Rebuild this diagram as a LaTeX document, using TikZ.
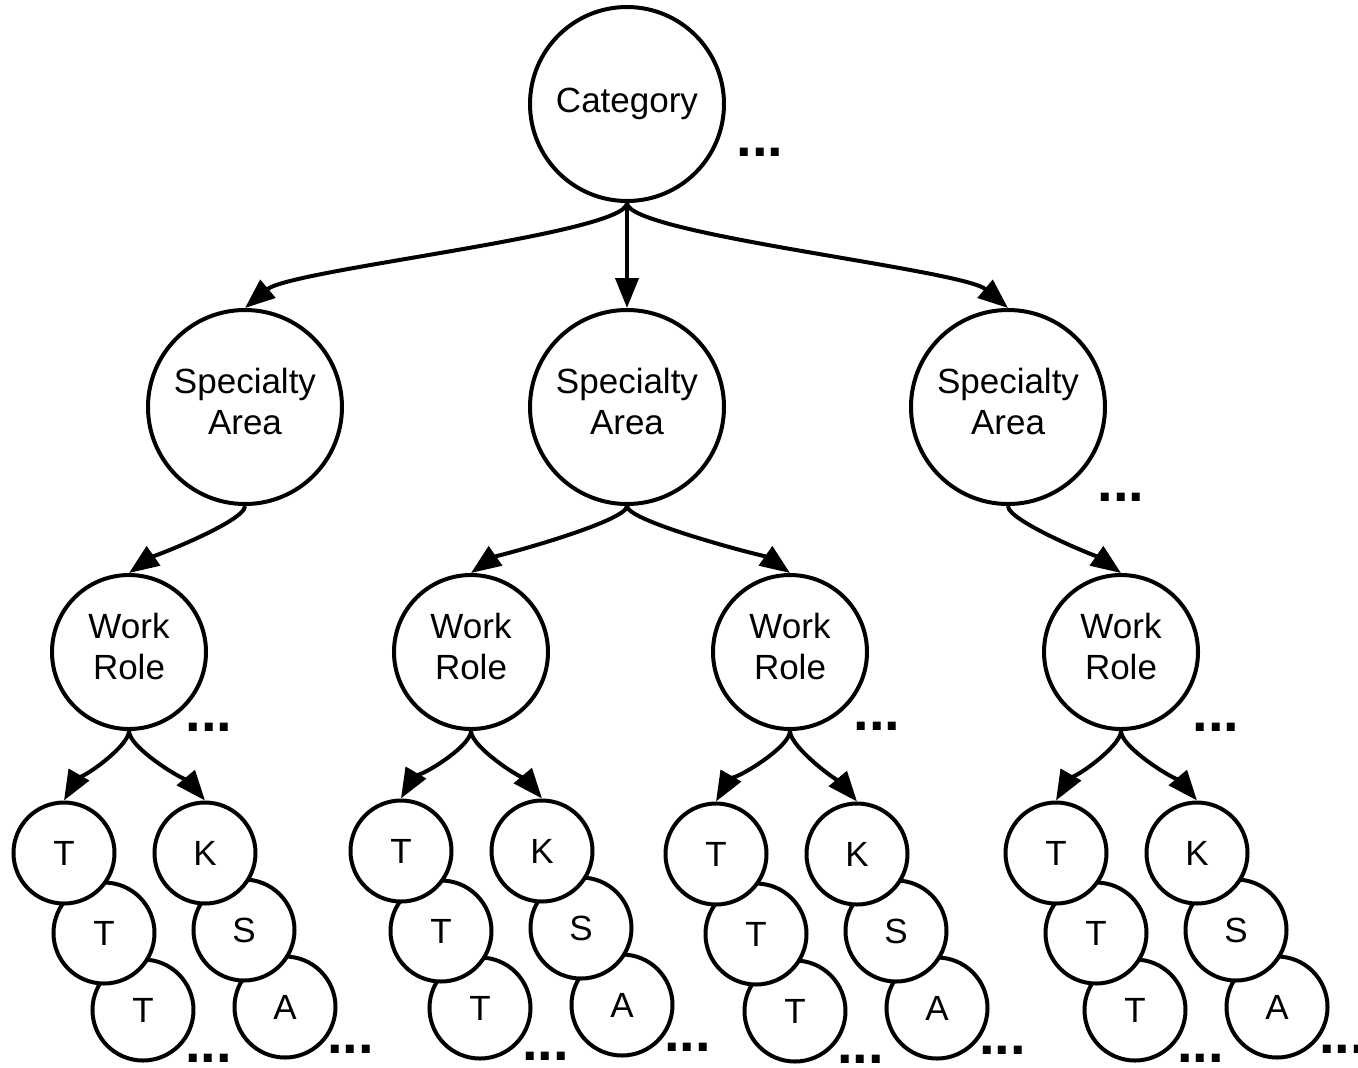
\documentclass[tikz,border=0pt]{standalone}
\usepackage{fontspec}
\setmainfont{Liberation Sans}
\usetikzlibrary{positioning}
\usetikzlibrary{arrows.meta}
\tikzset{on grid,
    every node/.style={
        font=\fontsize{17.5}{20.5}\selectfont},
    topic/.style={
        circle, draw,
        line width=2pt,
        fill=white,
        inner sep=0pt,
        align=center,
        minimum size=97pt},
    area/.style={topic, text depth=6pt},
    role/.style={topic, text depth=6pt, minimum size=77pt},
    leaf/.style={topic, minimum size=50.5pt},
    moredots/.style={
        inner sep=0pt,
        font=\bfseries\fontsize{28}{30}\selectfont},
    every edge/.style={
        draw,
        ->,>={Triangle[length=15pt,width=11.5pt]},
        line width=2pt}}
\begin{document}
\begin{tikzpicture}
        \useasboundingbox (-313.5pt,-481.5pt) rectangle (365.5pt,52pt);
        \node[topic] (cat) {Category};
        \node[area, below=151.5pt of cat] (sa2) {Specialty\\Area};
        \node[area, left=191pt of sa2] (sa1) {Specialty\\Area};
        \node[area, right=190.5pt of sa2] (sa3) {Specialty\\Area};
        \node[role, below left=122.5pt and 58pt of sa1] (wr1) {Work\\Role};
        \node[role, below left=122.5pt and 78pt of sa2] (wr2) {Work\\Role};
        \node[role, below right=122.5pt and 81.5pt of sa2] (wr3) {Work\\Role};
        \node[role, below right=122.5pt and 56.5pt of sa3] (wr4) {Work\\Role};
        % first group
        \node[leaf, below right=179pt and 7pt of wr1] (t13) {T};
        \node[leaf, above left=38.5pt and 19.5pt of t13] (t12) {T};
        \node[leaf, above left=40pt and 20pt of t12] (t11) {T};
        \node[leaf, above right=1.5pt and 71pt of t13] (a1) {A};
        \node[leaf, above left=38.5pt and 20.5pt of a1] (s1) {S};
        \node[leaf, above left=38.5pt and 19.5pt of s1] (k1) {K};
        % second group
        \node[leaf, below right=178pt and 4.5pt of wr2] (t23) {T};
        \node[leaf, above left=38.5pt and 19.5pt of t23] (t22) {T};
        \node[leaf, above left=40pt and 20pt of t22] (t21) {T};
        \node[leaf, above right=1.5pt and 71pt of t23] (a2) {A};
        \node[leaf, above left=38.5pt and 20.5pt of a2] (s2) {S};
        \node[leaf, above left=38.5pt and 19.5pt of s2] (k2) {K};
        % third group
        \node[leaf, below right=179.5pt and 2.5pt of wr3] (t33) {T};
        \node[leaf, above left=38.5pt and 19.5pt of t33] (t32) {T};
        \node[leaf, above left=40pt and 20pt of t32] (t31) {T};
        \node[leaf, above right=1.5pt and 71pt of t33] (a3) {A};
        \node[leaf, above left=38.5pt and 20.5pt of a3] (s3) {S};
        \node[leaf, above left=38.5pt and 19.5pt of s3] (k3) {K};
        % fourth group
        \node[leaf, below right=179pt and 7pt of wr4] (t43) {T};
        \node[leaf, above left=38.5pt and 19.5pt of t43] (t42) {T};
        \node[leaf, above left=40pt and 20pt of t42] (t41) {T};
        \node[leaf, above right=1.5pt and 71pt of t43] (a4) {A};
        \node[leaf, above left=38.5pt and 20.5pt of a4] (s4) {S};
        \node[leaf, above left=38.5pt and 19.5pt of s4] (k4) {K};
        % dots
        \node[moredots, below right=24pt and 66.5pt of cat] (catmore) {...};
        \node[moredots, below right=45pt and 56.5pt of sa3] (sa3more) {...};
        \node[moredots, below right=37.5pt and 40pt of wr1] (wr1more) {...};
        \node[moredots, below right=37pt and 43.5pt of wr3] (wr3more) {...};
        \node[moredots, below right=37.5pt and 47.5pt of wr4] (wr4more) {...};
        \node[moredots, below right=24pt and 32.75pt of t13] (t1more) {...};
        \node[moredots, below right=21pt and 32.75pt of a1] (a1more) {...};
        \node[moredots, below right=24pt and 32.75pt of t23] (t2more) {...};
        \node[moredots, below right=21pt and 32.75pt of a2] (a2more) {...};
        \node[moredots, below right=24pt and 32.75pt of t33] (t3more) {...};
        \node[moredots, below right=21pt and 32.75pt of a3] (a3more) {...};
        \node[moredots, below right=24pt and 32.75pt of t43] (t4more) {...};
        \node[moredots, below right=21pt and 32.75pt of a4] (a4more) {...};

        \draw (cat) edge[out=-90, in=40, out looseness=.2, in looseness=.39] (sa1.north);
        \draw (cat) edge (sa2);
        \draw (cat) edge[out=-90, in=140, out looseness=.2, in looseness=.39] (sa3.north);
        \draw (sa1) edge[out=-90, in=35, out looseness=.3, in looseness=.5] (wr1.north);
        \draw (sa2) edge[out=-90, in=35, out looseness=.24, in looseness=.4] (wr2.north);
        \draw (sa2) edge[out=-90, in=145, out looseness=.23, in looseness=.38] (wr3.north);
        \draw (sa3) edge[out=-90, in=145, out looseness=.3, in looseness=.5] (wr4.north);
        \draw (wr1) edge[out=-90, in=60, looseness=.45] (t11.north);
        \draw (wr1) edge[out=-90, in=130, looseness=.45] (k1.north);
        \draw (wr2) edge[out=-90, in=60, looseness=.45] (t21.north);
        \draw (wr2) edge[out=-90, in=130, looseness=.45] (k2.north);
        \draw (wr3) edge[out=-90, in=60, looseness=.45] (t31.north);
        \draw (wr3) edge[out=-90, in=130, looseness=.45] (k3.north);
        \draw (wr4) edge[out=-90, in=60, looseness=.45] (t41.north);
        \draw (wr4) edge[out=-90, in=130, looseness=.45] (k4.north);
    \end{tikzpicture}
\end{document}
